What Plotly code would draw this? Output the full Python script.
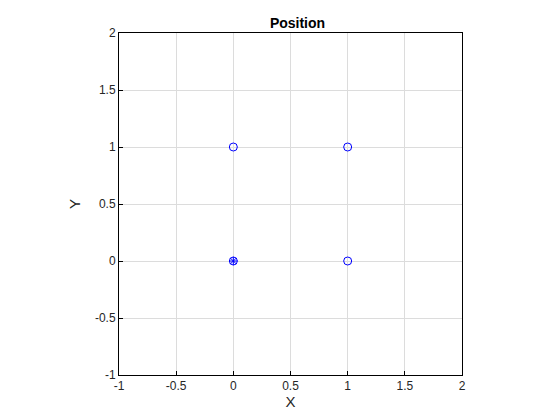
import plotly.graph_objects as go

# positions
circle_x = [0, 0, 1, 1]
circle_y = [0, 1, 1, 0]
star_x = [0]
star_y = [0]

tick_x = [-1, -0.5, 0, 0.5, 1, 1.5, 2]
tick_y = [-1, -0.5, 0, 0.5, 1, 1.5, 2]

fig = go.Figure()
fig.add_trace(go.Scatter(x=circle_x, y=circle_y, mode='markers',
                         marker=dict(symbol='circle-open', size=8, color='blue', line=dict(width=1))))
fig.add_trace(go.Scatter(x=star_x, y=star_y, mode='markers',
                         marker=dict(symbol='asterisk-open', size=7, color='blue', line=dict(width=1))))

axis = dict(showline=True, linecolor='black', linewidth=1, mirror=True,
            ticks='inside', ticklen=4, tickcolor='black',
            showgrid=True, gridcolor='#dcdcdc', zeroline=False,
            tickfont=dict(size=12, color='#262626'))

fig.update_layout(
    width=560, height=420, showlegend=False,
    plot_bgcolor='white', paper_bgcolor='white',
    margin=dict(l=111, r=106, t=25, b=53),
    font=dict(family='Liberation Sans, Arial', color='#262626'),
    title=dict(text='<b>Position</b>', x=0.517, xanchor='center', y=0.975, font=dict(size=14, color='black')),
)
fig.update_xaxes(range=[-1, 2], tickvals=tick_x, ticktext=[str(t) for t in tick_x],
                 title=dict(text='X', font=dict(size=15), standoff=4), **axis)
fig.update_yaxes(range=[-1, 2], tickvals=tick_y, ticktext=[str(t) for t in tick_y],
                 title=dict(text='Y', font=dict(size=15), standoff=10), **axis)

fig.write_html("out.html")
